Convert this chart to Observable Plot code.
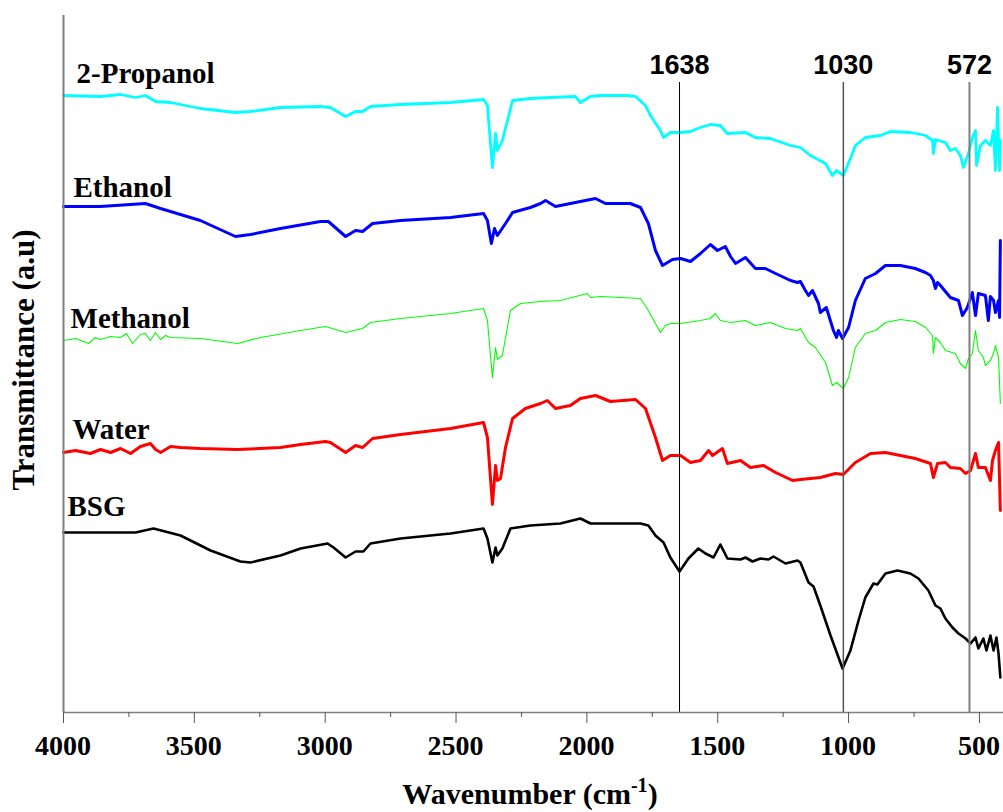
<!DOCTYPE html>
<html><head><meta charset="utf-8">
<script src="https://cdn.jsdelivr.net/npm/d3@7"></script>
<script src="https://cdn.jsdelivr.net/npm/@observablehq/plot@0.6"></script>
<style>body{margin:0;background:#fff;}</style>
</head><body><div id="chart"></div>
<script>
// ---- data (wavenumber cm-1, transmittance a.u. with vertical offsets) ----
const seriesNames = ["2-Propanol", "Ethanol", "Methanol", "Water", "BSG"];
const seriesColors = ["#00FFFF", "#0000FF", "#00FF00", "#FF0000", "#000000"];
const seriesWidths = [2.8, 3, 1.1, 3, 2.6];

const propanol = [[4000,617],[3859,616],[3782,618],[3725,615],[3687,617],[3648,611],[3591,610],[3477,604],[3343,600],[3285,601],[3171,605],[3018,606],[2980,605],[2922,596],[2884,601],[2857,601],[2827,606],[2712,608],[2521,610],[2395,613],[2380,607],[2361,545],[2349,579],[2342,562],[2323,572],[2284,612],[2216,614],[2139,615],[2044,616],[2025,610],[1986,616],[1948,617],[1845,617],[1814,616],[1776,607],[1757,597],[1719,582],[1707,575],[1681,580],[1642,580],[1604,581],[1566,585],[1528,588],[1490,587],[1463,579],[1394,580],[1356,575],[1299,574],[1222,567],[1184,565],[1146,557],[1088,549],[1062,537],[1046,542],[1020,537],[993,554],[974,567],[936,575],[878,577],[840,581],[764,580],[706,577],[679,572],[676,559],[668,573],[630,570],[611,562],[592,564],[573,557],[561,545],[542,559],[527,575],[515,582],[511,547],[496,567],[477,572],[458,567],[446,582],[439,542],[431,605],[423,542],[420,572]];

const ethanol = [[4000,506],[3859,506],[3687,509],[3629,504],[3477,492],[3343,476],[3285,478],[3171,484],[3018,491],[2988,491],[2922,476],[2884,482],[2857,481],[2819,489],[2712,492],[2521,495],[2395,499],[2380,492],[2365,469],[2353,484],[2342,477],[2311,489],[2284,500],[2216,505],[2177,509],[2158,512],[2120,506],[2044,510],[1967,514],[1929,509],[1834,509],[1795,505],[1765,489],[1738,462],[1711,447],[1673,453],[1642,454],[1604,451],[1566,459],[1528,468],[1501,462],[1471,466],[1451,456],[1432,449],[1394,455],[1356,444],[1318,444],[1279,439],[1222,432],[1195,430],[1184,431],[1165,422],[1153,417],[1138,422],[1115,409],[1108,400],[1085,405],[1058,382],[1046,375],[1039,382],[1023,374],[1000,385],[974,412],[936,434],[897,439],[859,447],[802,447],[745,444],[706,440],[687,437],[676,432],[668,424],[660,430],[649,427],[611,415],[580,412],[565,397],[546,405],[527,420],[515,397],[504,419],[477,417],[466,392],[458,416],[446,412],[439,400],[427,412],[423,395],[420,472]];

const methanol = [[4000,372],[3954,374],[3904,369],[3878,375],[3859,373],[3820,376],[3782,375],[3759,379],[3736,369],[3706,378],[3687,379],[3668,372],[3648,380],[3629,373],[3610,377],[3591,375],[3477,374],[3335,369],[3247,375],[3094,382],[2999,386],[2922,380],[2857,384],[2827,390],[2712,394],[2521,399],[2395,404],[2380,392],[2361,335],[2349,365],[2342,353],[2323,357],[2292,402],[2254,409],[2177,411],[2101,412],[1998,419],[1986,415],[1948,416],[1872,415],[1795,414],[1765,402],[1738,389],[1719,380],[1700,387],[1681,389],[1642,389],[1566,392],[1528,394],[1509,399],[1490,392],[1451,390],[1394,392],[1356,387],[1299,390],[1241,384],[1195,382],[1184,384],[1153,370],[1127,365],[1088,350],[1062,327],[1046,330],[1020,324],[1000,335],[974,365],[936,379],[897,382],[859,390],[802,393],[745,391],[706,385],[679,377],[676,359],[668,375],[649,370],[630,362],[592,359],[573,349],[553,344],[542,354],[527,359],[515,382],[504,362],[485,355],[477,347],[458,352],[446,359],[439,367],[427,355],[420,309]];

const water = [[4000,260],[3954,262],[3897,259],[3859,263],[3820,260],[3782,264],[3744,259],[3706,266],[3668,269],[3648,263],[3629,260],[3591,266],[3553,265],[3477,264],[3335,263],[3171,265],[3094,268],[2999,271],[2980,270],[2922,260],[2884,267],[2857,265],[2819,274],[2712,278],[2521,284],[2395,290],[2380,275],[2361,208],[2349,247],[2342,232],[2330,234],[2311,265],[2284,294],[2235,304],[2177,309],[2151,312],[2120,304],[2063,307],[2025,314],[1967,317],[1910,311],[1814,313],[1776,304],[1738,275],[1711,252],[1681,257],[1642,257],[1604,250],[1566,252],[1535,262],[1520,257],[1482,264],[1463,249],[1413,252],[1375,245],[1325,247],[1279,240],[1214,232],[1184,233],[1108,235],[1050,239],[1020,238],[974,250],[916,259],[859,260],[802,257],[745,254],[687,249],[676,235],[660,249],[630,250],[611,245],[573,244],[553,239],[534,242],[515,259],[504,245],[477,245],[458,232],[450,252],[439,262],[427,270],[420,202]];

const bsg = [[4000,180],[3859,180],[3725,180],[3656,184],[3553,177],[3438,162],[3324,151],[3285,150],[3171,157],[3094,164],[2991,169],[2968,165],[2922,155],[2884,161],[2854,161],[2827,169],[2712,174],[2521,179],[2395,184],[2380,174],[2361,150],[2349,165],[2342,157],[2323,164],[2292,184],[2216,187],[2101,189],[2025,194],[1986,189],[1872,189],[1795,189],[1765,187],[1738,177],[1707,170],[1681,155],[1646,141],[1612,154],[1574,164],[1547,159],[1516,155],[1490,168],[1463,154],[1413,153],[1394,155],[1367,151],[1337,154],[1306,153],[1287,156],[1241,149],[1195,152],[1184,150],[1153,130],[1134,126],[1108,107],[1069,77],[1023,44],[993,62],[962,92],[936,115],[905,129],[890,128],[859,139],[813,142],[764,139],[733,134],[695,122],[668,107],[649,104],[630,94],[603,85],[580,79],[553,74],[534,69],[515,75],[504,64],[485,74],[473,62],[458,77],[446,62],[435,75],[427,59],[420,35]];

const labelWn = [3950, 3962, 3973, 3966, 3985];
const labelT = [630, 516, 385, 274, 197];

const xTicks = [4000, 3500, 3000, 2500, 2000, 1500, 1000, 500];
const xMinorTicks = [3750, 3250, 2750, 2250, 1750, 1250, 750];

const peakPositions = [1646, 1020, 538];
const peakLabels = ["1638", "1030", "572"];
const peakTop = 630;
const peakStrokes = ["#000000", "#555555", "#7f7f7f"];
const peakWidths = [1, 1.5, 2];

// ---- build ----
const spectra = [propanol, ethanol, methanol, water, bsg];
const serif = "Liberation Serif";
const sans = "Liberation Sans";

const marks = [];
spectra.forEach((s, i) => {
  marks.push(Plot.line(s, {x: d => d[0], y: d => d[1], stroke: seriesColors[i], strokeWidth: seriesWidths[i], strokeLinejoin: "round"}));
});
peakPositions.forEach((p, i) => {
  marks.push(Plot.ruleX([p], {y1: 0, y2: peakTop, stroke: peakStrokes[i], strokeWidth: peakWidths[i]}));
  marks.push(Plot.text([peakLabels[i]], {x: p, y: peakTop + 9, text: d => d, fontFamily: sans, fontWeight: "bold", fontSize: 27, textAnchor: "middle", lineAnchor: "bottom", fill: "black"}));
});
marks.push(Plot.text(seriesNames, {x: (d, i) => labelWn[i], y: (d, i) => labelT[i], text: d => d, fontFamily: serif, fontWeight: "bold", fontSize: 29, textAnchor: "start", lineAnchor: "bottom", fill: "black"}));
marks.push(Plot.ruleX([4000], {stroke: "#808080", strokeWidth: 2}));
marks.push(Plot.ruleY([0], {stroke: "#808080", strokeWidth: 1.5}));
// tick marks (major and minor) from the x scale
marks.push(Plot.axisX({ticks: xTicks, tickSize: 11, tickFormat: () => "", label: null, stroke: "#555"}));
marks.push(Plot.axisX({ticks: xMinorTicks, tickSize: 5, tickFormat: () => "", label: null, stroke: "#555"}));

const chart = Plot.plot({
  width: 1003,
  height: 812,
  marginLeft: 63,
  marginRight: 0,
  marginTop: 15,
  marginBottom: 100,
  x: {domain: [4000, 408], axis: null},
  y: {domain: [0, 697], axis: null},
  style: {background: "white", overflow: "visible"},
  marks
});

const svg = d3.select(chart);
const xScale = chart.scale("x");

// tick labels placed with the chart's own x scale, serif bold as in the reference
const tl = svg.append("g").attr("class", "tick-labels");
xTicks.forEach(t => {
  tl.append("text")
    .attr("x", xScale.apply(t)).attr("y", 755)
    .attr("text-anchor", "middle")
    .style("font-family", "'Liberation Serif', serif")
    .style("font-weight", "bold")
    .style("font-size", "28px")
    .attr("fill", "black")
    .text(String(t));
});

const xt = svg.append("text")
  .attr("x", 530).attr("y", 804)
  .attr("text-anchor", "middle")
  .attr("font-family", serif).attr("font-weight", "bold").attr("font-size", 30)
  .attr("fill", "black");
xt.append("tspan").text("Wavenumber (cm");
xt.append("tspan").attr("dy", -12).attr("font-size", 20).text("-1");
xt.append("tspan").attr("dy", 12).text(")");

svg.append("text")
  .attr("transform", "translate(34,360) rotate(-90)")
  .attr("text-anchor", "middle")
  .attr("font-family", serif).attr("font-weight", "bold").attr("font-size", 31)
  .attr("fill", "black")
  .text("Transmittance (a.u)");

document.getElementById("chart").appendChild(chart);
</script>
</body></html>
